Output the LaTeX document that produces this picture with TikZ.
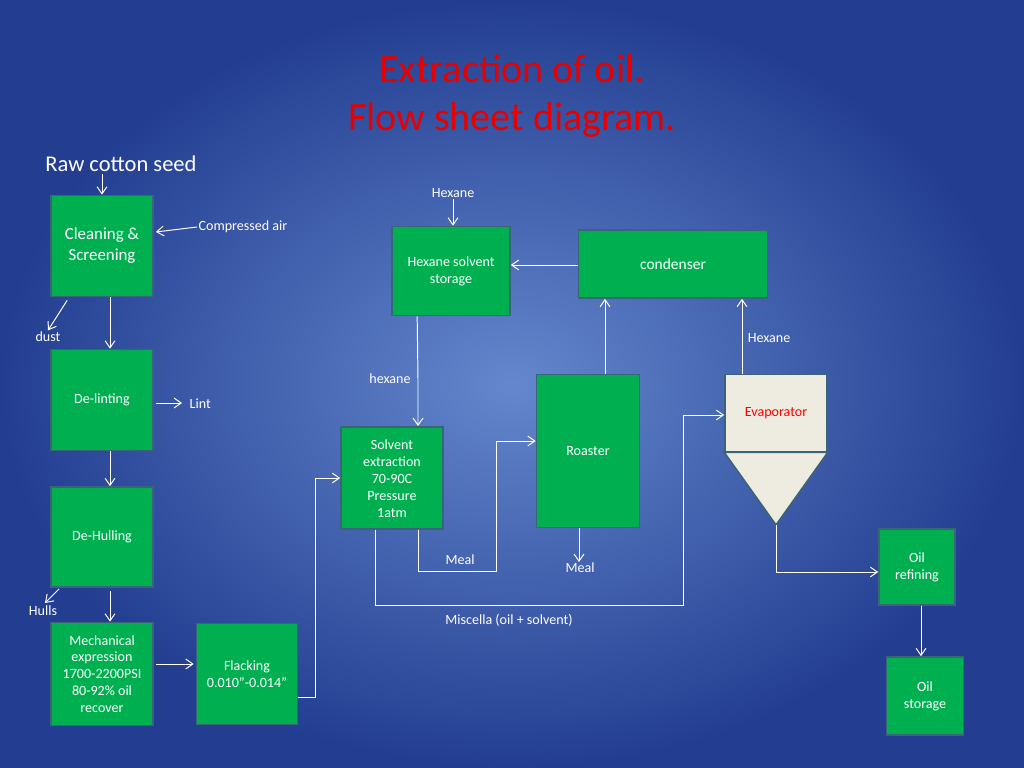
\documentclass[tikz,border=0pt]{standalone}
\usepackage{fontspec}
\setmainfont{Carlito}
\usetikzlibrary{arrows.meta,calc}
\definecolor{boxgreen}{RGB}{0,176,80}
\definecolor{boxline}{RGB}{60,100,120}
\definecolor{evapfill}{RGB}{238,236,225}
\definecolor{titlered}{RGB}{230,0,0}
\tikzset{
  unit/.style={draw=boxline, line width=1.2pt, fill=boxgreen, text=white,
    align=center, font=\fontsize{10}{12}\selectfont, inner sep=1pt},
  flow/.style={draw=white, line width=0.7pt, -{Straight Barb[length=5pt,width=7pt]}},
  note/.style={text=white, font=\fontsize{10}{12}\selectfont, inner sep=1pt}
}
\begin{document}
\begin{tikzpicture}[x=0.025cm, y=-0.025cm]
  \def\u{0.025cm}
  % background
  \shade[inner color={rgb,255:red,100;green,135;blue,205}, outer color={rgb,255:red,35;green,62;blue,145}]
    (0,0) rectangle (1024,768);
  \useasboundingbox (0,0) rectangle (1024,768);
  % title
  \node[text=titlered, align=center, font=\fontsize{28.5}{34}\selectfont] (title) at (512,96)
    {Extraction of oil.\\Flow sheet diagram.};
  % process units
  \node[unit, minimum width=102*\u, minimum height=101*\u, font=\fontsize{12}{15}\selectfont] (clean) at (102,246) {Cleaning \&\\Screening};
  \node[unit, minimum width=102*\u, minimum height=101*\u] (delint) at (102,400) {De-linting};
  \node[unit, minimum width=102*\u, minimum height=100*\u] (dehull) at (102,537) {De-Hulling};
  \node[unit, minimum width=102*\u, minimum height=103*\u] (mech) at (102,674) {Mechanical\\expression\\1700-2200PSI\\80-92\% oil\\recover};
  \node[unit, minimum width=101*\u, minimum height=101*\u] (flack) at (247,674) {Flacking\\0.010''-0.014''};
  \node[unit, minimum width=102*\u, minimum height=102*\u, anchor=north] (solvent) at (392,426) {\strut Solvent\\extraction\\70-90C\\Pressure\\1atm};
  \node[unit, minimum width=118*\u, minimum height=89*\u] (store) at (451,271) {Hexane solvent\\storage};
  \node[unit, minimum width=189*\u, minimum height=68*\u, font=\fontsize{11}{13}\selectfont] (cond) at (673,264) {condenser};
  \node[unit, minimum width=103*\u, minimum height=153*\u] (roast) at (588,451) {Roaster};
  \node[unit, fill=evapfill, text=red, minimum width=102*\u, minimum height=77*\u] (evap) at (776,413) {Evaporator};
  \draw[boxline, line width=1.2pt, fill=evapfill] (evap.south west) -- (evap.south east) -- (776,525) coordinate (cone) -- cycle;
  \node[unit, minimum width=76*\u, minimum height=76*\u] (refine) at (917,567) {Oil\\refining};
  \node[unit, minimum width=77*\u, minimum height=78*\u] (oilstore) at (925,696) {Oil\\storage};
  % streams in and out
  \node[text=white, font=\fontsize{16}{19}\selectfont, inner sep=1pt] (raw) at (121,164) {Raw cotton seed};
  \node[note, anchor=west] (air) at (197,227) {Compressed air};
  \node[note] (dust) at (48,337) {dust};
  \node[note, anchor=west] (lint) at (188,404) {Lint};
  \node[note] (hulls) at (43,611) {Hulls};
  \node[note] (hex) at (453,193) {Hexane};
  \node[note] (hexlow) at (390,379) {hexane};
  \node[note] (hexup) at (769,338) {Hexane};
  \node[note] (meal) at (460,560) {Meal};
  \node[note] (meal2) at (580,568) {Meal};
  \node[note] (misc) at (509,620) {Miscella (oil + solvent)};
  \coordinate (hullsend) at (45,603);
  % connectors
  \draw[flow] (raw.south -| clean.north) -- (clean.north);
  \draw[flow] (air.west) -- ($(clean.east)+(2,-14)$);
  \draw[flow] ($(clean.south west)+(17,3)$) -- (dust.north);
  \draw[flow] ($(clean.south)+(8,0)$) -- ($(delint.north)+(8,0)$);
  \draw[flow] ($(delint.east)+(2,3)$) -- ($(lint.west)+(-6,-1)$);
  \draw[flow] ($(delint.south)+(8,0)$) -- ($(dehull.north)+(8,0)$);
  \draw[flow] ($(dehull.south west)+(9,1)$) -- (hullsend);
  \draw[flow] ($(dehull.south)+(8,3)$) -- ($(mech.north)+(8,0)$);
  \draw[flow] ($(mech.east)+(2,-10)$) -- ($(flack.west)+(-2,-10)$);
  \draw[flow] ($(flack.east)+(0,23)$) -| (315,478) -- (solvent.west |- 0,478);
  \draw[flow] (hex.south) -- (store.north -| hex.south);
  \draw[flow] (cond.west |- 0,265) -- (store.east |- 0,265);
  \draw[flow] ($(store.south west)+(26,0)$) -- (hexlow.east -| 418,0) -- (solvent.north -| 418,0);
  \draw[flow] (solvent.south -| 418,0) |- (496,571) |- (roast.west |- 0,441);
  \draw[flow] (roast.south -| 579,0) -- (579,562);
  \draw[flow] (roast.north -| 605,0) -- (cond.south -| 605,0);
  \draw[flow] (evap.north -| 742,0) -- (cond.south -| 742,0);
  \draw[flow] (solvent.south -| 375,0) |- (683,605) |- (evap.west |- 0,415);
  \draw[flow] (cone) |- (refine.west |- 0,572);
  \draw[flow] (refine.south -| 921,0) -- (oilstore.north -| 921,0);
\end{tikzpicture}
\end{document}
